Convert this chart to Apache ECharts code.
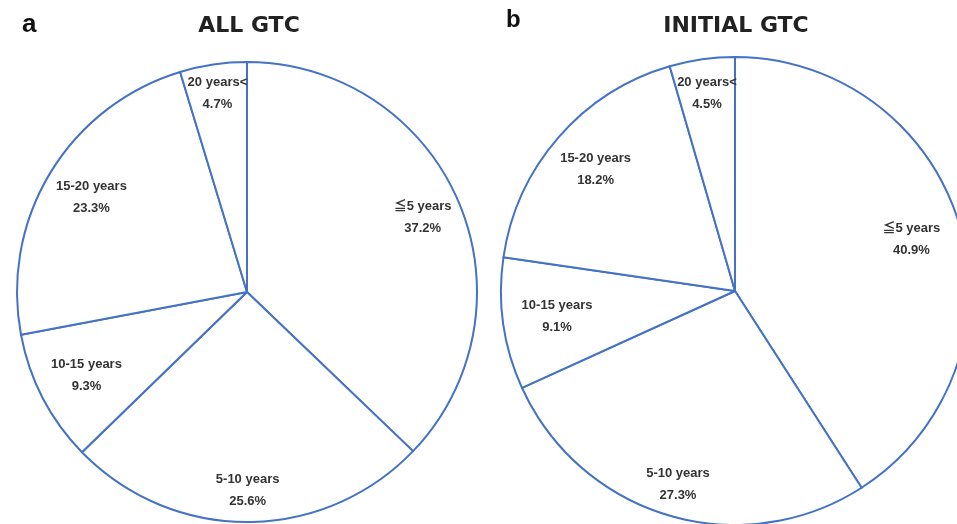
<!DOCTYPE html>
<html>
<head>
<meta charset="utf-8">
<script src="https://cdn.jsdelivr.net/npm/echarts@6/dist/echarts.min.js"></script>
<style>html,body{margin:0;padding:0;background:#fff}#c{width:957px;height:524px}</style>
</head>
<body>
<div id="c"></div>
<script>
const categories = ['≦5 years', '5-10 years', '10-15 years', '15-20 years', '20 years<'];
const allGTC = [37.2, 25.6, 9.3, 23.3, 4.7];
const initialGTC = [40.9, 27.3, 9.1, 18.2, 4.5];
const panelTitles = ['ALL GTC', 'INITIAL GTC'];
const panelLetters = ['a', 'b'];

const lineColor = '#4472C4';
const font = '"Liberation Sans", Arial, "Noto Sans CJK JP", sans-serif';
const titleFont = '"DejaVu Sans", "Liberation Sans", sans-serif';

// label distance from the pie centre, per slice (styling of label placement)
const labelDist = [
  [188, 195, 178, 179, 198],
  [181, 199, 177, 182, 196]
];

function mkData(vals) { return categories.map((c, i) => ({ name: c, value: vals[i] })); }

function pieSeries(vals, center, R, panel) {
  const mid = R * 0.82;
  return [
    {
      type: 'pie', center: center, radius: [0, R], startAngle: 90, clockwise: true,
      silent: true, animation: false,
      itemStyle: { color: '#ffffff', borderColor: lineColor, borderWidth: 2 },
      label: { show: false }, labelLine: { show: false },
      data: mkData(vals)
    },
    {
      type: 'pie', center: center, radius: [R * 0.64, R], startAngle: 90, clockwise: true,
      silent: true, animation: false, z: 5,
      itemStyle: { color: 'rgba(0,0,0,0)', borderWidth: 0 },
      label: {
        show: true, position: 'inside', color: '#333', fontFamily: font, fontWeight: 'bold',
        fontSize: 13, lineHeight: 22, align: 'center',
        formatter: p => p.name + '\n' + p.value.toFixed(1) + '%'
      },
      labelLine: { show: false },
      labelLayout: function (params) {
        const r = params.labelRect;
        const cx = r.x + r.width / 2, cy = r.y + r.height / 2;
        const f = labelDist[panel][params.dataIndex] / mid - 1;
        return { dx: (cx - center[0]) * f, dy: (cy - center[1]) * f };
      },
      data: mkData(vals)
    }
  ];
}

const chart = echarts.init(document.getElementById('c'), null, { renderer: 'canvas' });
chart.setOption({
  backgroundColor: '#ffffff',
  animation: false,
  title: [
    { text: panelLetters[0], left: 17, top: 7, textStyle: { fontSize: 26, fontWeight: 'bold', color: '#111', fontFamily: font } },
    { text: panelTitles[0], left: 244, textAlign: 'center', top: 10, textStyle: { fontSize: 22, fontWeight: 'bold', color: '#222', fontFamily: titleFont } },
    { text: panelLetters[1], left: 501, top: 3, textStyle: { fontSize: 24, fontWeight: 'bold', color: '#111', fontFamily: font } },
    { text: panelTitles[1], left: 731, textAlign: 'center', top: 10, textStyle: { fontSize: 22, fontWeight: 'bold', color: '#222', fontFamily: titleFont } }
  ],
  series: [].concat(
    pieSeries(allGTC, [247, 292], 230, 0),
    pieSeries(initialGTC, [735, 291], 234, 1)
  )
});
</script>
</body>
</html>
